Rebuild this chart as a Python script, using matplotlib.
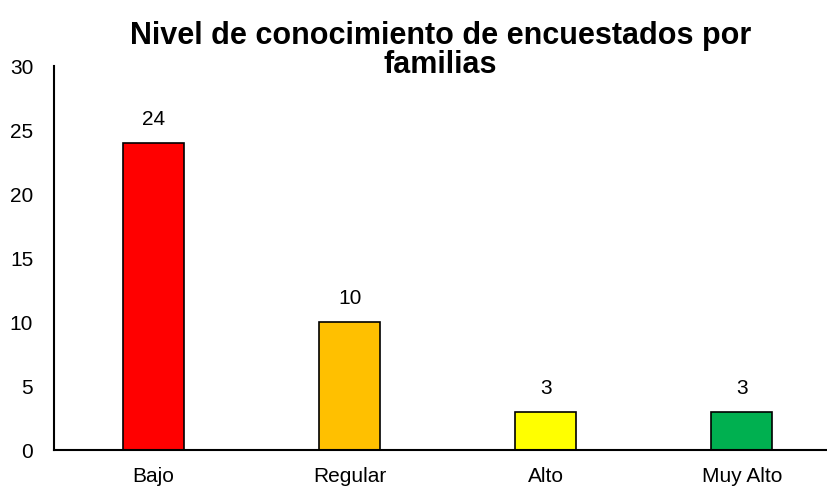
import matplotlib
matplotlib.use('Agg')
import matplotlib.pyplot as plt

plt.rcParams['font.family'] = ['Liberation Sans Narrow', 'Liberation Sans', 'DejaVu Sans']

categorias = ['Bajo', 'Regular', 'Alto', 'Muy Alto']
valores = [24, 10, 3, 3]
colores = ['#FF0000', '#FFC000', '#FFFF00', '#00B050']

fig = plt.figure(figsize=(8.28, 4.91), dpi=100)
ax = fig.add_axes([54 / 828, 1 - 450 / 491, 1 - 54 / 828, 384 / 491])

x = range(len(categorias))
barras = ax.bar(x, valores, width=0.31, color=colores, edgecolor='black', linewidth=1.2)
for b, v in zip(barras, valores):
    ax.annotate(str(v), (b.get_x() + b.get_width() / 2, v), xytext=(0, 10),
                textcoords='offset points', ha='center', va='bottom', fontsize=15)

ax.set_xlim(-0.508, 3.44)
ax.set_ylim(0, 30)
ax.set_yticks(range(0, 31, 5))
ax.set_xticks(list(x))
ax.set_xticklabels(categorias)
ax.tick_params(axis='both', length=0, labelsize=15)
ax.tick_params(axis='y', pad=15)
ax.tick_params(axis='x', pad=12)
for s in ['top', 'right']:
    ax.spines[s].set_visible(False)
for s in ['left', 'bottom']:
    ax.spines[s].set_linewidth(1.5)

fig.text(0.532, 0.898, 'Nivel de conocimiento de encuestados por\nfamilias',
         ha='center', va='center', fontsize=22, fontweight='bold', linespacing=0.95)

fig.savefig('out.png', dpi=100)
